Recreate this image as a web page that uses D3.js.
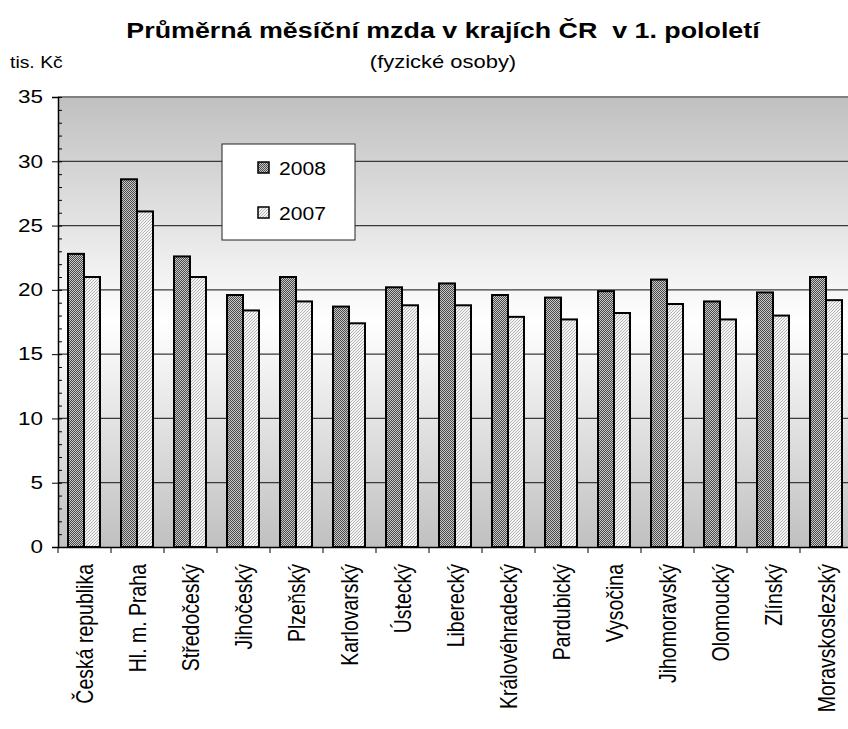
<!DOCTYPE html>
<html>
<head>
<meta charset="utf-8">
<script src="https://cdn.jsdelivr.net/npm/d3@7"></script>
<style>
  body { margin: 0; background: #fff; }
  svg { font-family: "Liberation Sans", Arial, sans-serif; }
</style>
</head>
<body>
<svg width="848" height="729"></svg>
<script>
var regions = ["Česká republika", "Hl. m. Praha", "Středočeský", "Jihočeský", "Plzeňský",
  "Karlovarský", "Ústecký", "Liberecký", "Královéhradecký", "Pardubický", "Vysočina",
  "Jihomoravský", "Olomoucký", "Zlínský", "Moravskoslezský"];
var mzda2008 = [22.8, 28.6, 22.6, 19.6, 21.0, 18.7, 20.2, 20.5, 19.6, 19.4, 19.9, 20.8, 19.1, 19.8, 21.0];
var mzda2007 = [21.0, 26.1, 21.0, 18.4, 19.1, 17.4, 18.8, 18.8, 17.9, 17.7, 18.2, 18.9, 17.7, 18.0, 19.2];
var years = ["2008", "2007"];
var yTicks = [0, 5, 10, 15, 20, 25, 30, 35];

var svg = d3.select("svg"),
    margin = {top: 97, left: 58},
    width = 795,
    height = 450,
    g = svg.append("g").attr("transform", "translate(" + margin.left + "," + margin.top + ")");

var defs = svg.append("defs");

var grad = defs.append("linearGradient").attr("id", "bg")
    .attr("x1", 0).attr("y1", 0).attr("x2", 0).attr("y2", 1);
grad.append("stop").attr("offset", "0%").attr("stop-color", "#c0c0c0");
grad.append("stop").attr("offset", "50%").attr("stop-color", "#ffffff");
grad.append("stop").attr("offset", "100%").attr("stop-color", "#c0c0c0");

// checkered fill for 2008
var p1 = defs.append("pattern").attr("id", "p2008")
    .attr("patternUnits", "userSpaceOnUse").attr("width", 2).attr("height", 2);
p1.append("rect").attr("width", 2).attr("height", 2).attr("fill", "#c8c8c8");
p1.append("rect").attr("width", 1).attr("height", 1).attr("fill", "#4a4a4a");
p1.append("rect").attr("x", 1).attr("y", 1).attr("width", 1).attr("height", 1).attr("fill", "#4a4a4a");

// light hatching for 2007
var p2 = defs.append("pattern").attr("id", "p2007")
    .attr("patternUnits", "userSpaceOnUse").attr("width", 3).attr("height", 3);
p2.append("rect").attr("width", 3).attr("height", 3).attr("fill", "#f4f4f4");
p2.append("path").attr("d", "M-1,1 L1,-1 M0,3 L3,0 M2,4 L4,2")
    .attr("stroke", "#b4b4b4").attr("stroke-width", 1);

var fills = {"2008": "url(#p2008)", "2007": "url(#p2007)"};

var x = d3.scaleBand().domain(regions).range([0, width]).padding(0);
var x1 = d3.scaleBand().domain(years).range([10, 42]);
var y = d3.scaleLinear().domain([0, 35]).range([height, 0]);

// plot background
g.append("rect").attr("width", width).attr("height", height).attr("fill", "url(#bg)");

// grid lines
g.selectAll(".grid").data(yTicks.filter(function(d) { return d > 0 && d < 35; }))
  .enter().append("line")
    .attr("x1", 0).attr("x2", width)
    .attr("y1", function(d) { return y(d); }).attr("y2", function(d) { return y(d); })
    .attr("stroke", "#3a3a3a").attr("stroke-width", 1.3);

g.append("line").attr("x1", 0).attr("x2", width).attr("y1", 0).attr("y2", 0)
  .attr("stroke", "#808080").attr("stroke-width", 2);

// bars
var data = regions.map(function(r, i) {
  return {region: r, values: [{year: "2008", v: mzda2008[i]}, {year: "2007", v: mzda2007[i]}]};
});

var grp = g.selectAll(".region").data(data)
  .enter().append("g")
    .attr("transform", function(d) { return "translate(" + x(d.region) + ",0)"; });

grp.selectAll("rect").data(function(d) { return d.values; })
  .enter().append("rect")
    .attr("x", function(d) { return x1(d.year); })
    .attr("width", x1.bandwidth())
    .attr("y", function(d) { return y(d.v); })
    .attr("height", function(d) { return height - y(d.v); })
    .attr("fill", function(d) { return fills[d.year]; })
    .attr("stroke", "#000").attr("stroke-width", 2);

// y axis (text is a bit wider than normal in the original)
var sx = 1.25;
var yAxis = g.append("g")
  .call(d3.axisLeft(y).tickValues(yTicks).tickSize(6).tickFormat(d3.format("d")));
yAxis.select(".domain").attr("stroke", "#000").attr("stroke-width", 1.5);
yAxis.selectAll("text").attr("font-size", 18).attr("fill", "#000")
  .attr("x", -15 / sx).attr("transform", "scale(" + sx + ",1)");

g.append("g")
  .call(d3.axisRight(y).tickValues(d3.range(0, 36, 1)).tickSize(4).tickFormat(""))
  .select(".domain").remove();

// x axis
var xAxis = g.append("g").attr("transform", "translate(0," + height + ")")
  .call(d3.axisBottom(x).tickSize(0));
xAxis.select(".domain").attr("stroke", "#000").attr("stroke-width", 1.5);
xAxis.selectAll("text")
  .attr("font-size", 19.5).attr("fill", "#000")
  .attr("transform", "rotate(-90) scale(1,1.2)")
  .attr("text-anchor", "end")
  .attr("x", -17).attr("y", 0).attr("dy", "0.35em");

g.selectAll(".xtick").data(regions)
  .enter().append("line")
    .attr("x1", function(d) { return x(d); }).attr("x2", function(d) { return x(d); })
    .attr("y1", height).attr("y2", height + 6)
    .attr("stroke", "#000");

// titles
function wideText(px, py, size, scale, anchor, txt) {
  return svg.append("text")
    .attr("transform", "translate(" + px + "," + py + ") scale(" + scale + ",1)")
    .attr("text-anchor", anchor).attr("font-size", size).text(txt);
}
wideText(443, 38, 22, 1.22, "middle", "Průměrná měsíční mzda v krajích ČR  v 1. pololetí")
  .attr("font-weight", "bold").style("white-space", "pre");
wideText(443, 68, 18, 1.22, "middle", "(fyzické osoby)");
wideText(10, 68, 17, 1.14, "start", "tis. Kč");

// legend
var legend = svg.append("g").attr("transform", "translate(222,144)");
legend.append("rect").attr("width", 133).attr("height", 96)
  .attr("fill", "#fff").attr("stroke", "#222").attr("stroke-width", 1);
var li = legend.selectAll(".li").data(years)
  .enter().append("g")
    .attr("transform", function(d, i) { return "translate(36," + (18 + i * 45) + ")"; });
li.append("rect").attr("width", 11).attr("height", 11)
  .attr("fill", function(d) { return fills[d]; }).attr("stroke", "#000").attr("stroke-width", 1.5);
li.append("text").attr("transform", "translate(21,13) scale(1.14,1)")
  .attr("font-size", 18.5).text(function(d) { return d; });
</script>
</body>
</html>
